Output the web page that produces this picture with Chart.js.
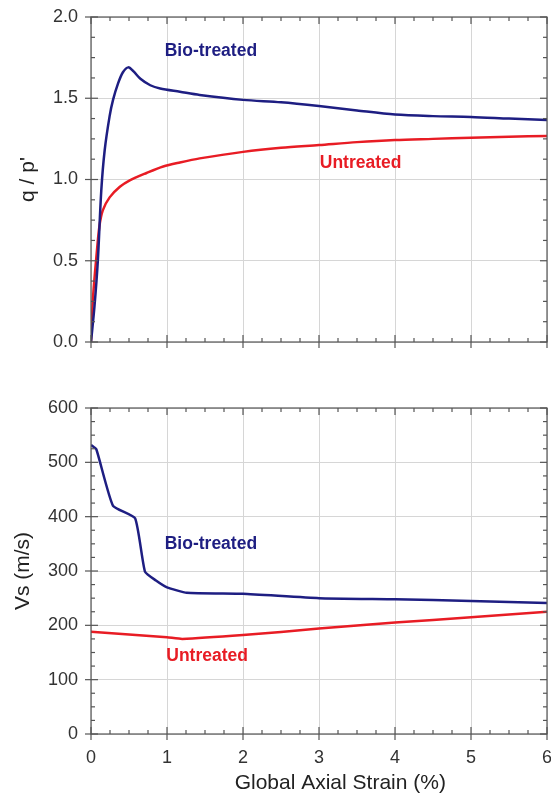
<!DOCTYPE html>
<html>
<head>
<meta charset="utf-8">
<script src="https://cdn.jsdelivr.net/npm/chart.js@4.4.1/dist/chart.umd.min.js"></script>
<style>
  body { margin: 0; background: #fff; }
  #qpChart { position: absolute; left: 0; top: 0; }
  #vsChart { position: absolute; left: 0; top: 370px; }
</style>
</head>
<body>
<canvas id="qpChart" width="551" height="370"></canvas>
<canvas id="vsChart" width="551" height="428"></canvas>
<script>
// ---- data ----
// q/p' vs strain (%)
const bioStrainQ = [0, 0.046, 0.09, 0.135, 0.18, 0.245, 0.29, 0.355, 0.42, 0.49, 0.56, 0.65, 0.78, 0.91, 1.17, 1.43, 2.0, 2.5, 3.0, 3.5, 4.0, 4.5, 5.0, 5.5, 6.0];
const bioQ = [0, 0.22, 0.50, 0.93, 1.18, 1.39, 1.49, 1.59, 1.66, 1.69, 1.665, 1.62, 1.58, 1.56, 1.54, 1.52, 1.49, 1.475, 1.452, 1.425, 1.40, 1.39, 1.385, 1.375, 1.366];
const untStrainQ = [0, 0.02, 0.035, 0.07, 0.11, 0.155, 0.245, 0.38, 0.51, 0.73, 0.95, 1.17, 1.43, 2.0, 2.5, 3.0, 3.5, 4.0, 4.5, 5.0, 5.5, 6.0];
const untQ = [0, 0.22, 0.33, 0.52, 0.71, 0.81, 0.89, 0.955, 0.995, 1.04, 1.08, 1.105, 1.13, 1.17, 1.195, 1.212, 1.23, 1.243, 1.25, 1.257, 1.263, 1.268];

// Vs (m/s) vs strain (%)
const bioStrainV = [0, 0.07, 0.29, 0.58, 0.71, 0.85, 1.0, 1.26, 2.0, 3.0, 4.0, 5.0, 6.0];
const bioVs = [532, 524, 420, 397, 299, 283, 270, 260, 258, 250, 248, 245, 241];
const untStrainV = [0, 1.0, 1.2, 2.0, 3.0, 4.0, 5.0, 6.0];
const untVs = [188, 178, 175, 182, 194, 205, 215, 225];

// curve labels
const labelText = ['Bio-treated', 'Untreated'];
const qLabelX = [0.97, 3.01];
const qLabelY = [1.79, 1.10];
const vLabelX = [0.97, 0.99];
const vLabelY = [350, 144];

const xTitle = 'Global Axial Strain (%)';

const NAVY = '#1e1e82';
const RED = '#e81c24';
const FONT = 'Liberation Sans, Arial, sans-serif';

const toPoints = (xs, ys) => xs.map((x, i) => ({ x: x, y: ys[i] }));

const frameTicks = {
  id: 'frameTicks',
  afterDatasetsDraw(chart, args, opts) {
    const { ctx, chartArea: a, scales: { x, y } } = chart;
    ctx.save();
    ctx.strokeStyle = '#555';
    ctx.lineWidth = 1.2;
    const line = (x1, y1, x2, y2) => {
      ctx.beginPath(); ctx.moveTo(x1, y1); ctx.lineTo(x2, y2); ctx.stroke();
    };
    const isMajor = (v, step) => Math.abs(v / step - Math.round(v / step)) < 1e-6;
    for (let v = x.min; v <= x.max + 1e-9; v += opts.xMinor) {
      const px = x.getPixelForValue(v);
      const major = isMajor(v, opts.xMajor);
      const len = major ? 7 : 4;
      line(px, a.bottom - len, px, a.bottom + (major ? 6 : 0));
      line(px, a.top, px, a.top + len);
    }
    for (let v = y.min; v <= y.max + 1e-9; v += opts.yMinor) {
      const py = y.getPixelForValue(v);
      const major = isMajor(v, opts.yMajor);
      const len = major ? 7 : 4;
      line(a.left - (major ? 6 : 0), py, a.left + len, py);
      line(a.right - len, py, a.right, py);
    }
    ctx.strokeRect(a.left, a.top, a.right - a.left, a.bottom - a.top);
    ctx.restore();
  }
};

const curveLabels = {
  id: 'curveLabels',
  afterDatasetsDraw(chart, args, opts) {
    const { ctx, chartArea: a, scales: { x, y } } = chart;
    ctx.save();
    ctx.font = 'bold 17.5px ' + FONT;
    ctx.textAlign = 'left';
    ctx.textBaseline = 'middle';
    opts.xs.forEach((lx, i) => {
      ctx.fillStyle = opts.colors[i];
      ctx.fillText(opts.texts[i], x.getPixelForValue(lx), y.getPixelForValue(opts.ys[i]));
    });
    // x-axis title, sits a little right of centre in the original
    if (opts.xTitle) {
      ctx.font = '21px ' + FONT;
      ctx.fillStyle = '#222';
      ctx.textAlign = 'center';
      ctx.fillText(opts.xTitle, x.getPixelForValue(3.28), a.bottom + 49);
    }
    ctx.restore();
  }
};

function makeChart(id, cfg) {
  return new Chart(document.getElementById(id), {
    type: 'line',
    data: {
      datasets: [
        { data: toPoints(cfg.bioX, cfg.bioY), borderColor: NAVY, borderWidth: 2.5, pointRadius: 0, tension: cfg.tension },
        { data: toPoints(cfg.untX, cfg.untY), borderColor: RED, borderWidth: 2.5, pointRadius: 0, tension: cfg.tension }
      ]
    },
    options: {
      responsive: false,
      animation: false,
      layout: { padding: { top: cfg.padTop, right: 4, left: 0, bottom: 0 } },
      plugins: {
        legend: { display: false },
        tooltip: { enabled: false },
        frameTicks: { xMinor: 0.25, xMajor: 1, yMinor: cfg.yMinor, yMajor: cfg.yStep },
        curveLabels: { xs: cfg.labelX, ys: cfg.labelY, texts: labelText, colors: [NAVY, RED], xTitle: cfg.xTitle }
      },
      scales: {
        x: {
          type: 'linear', min: 0, max: 6,
          afterFit: (s) => { s.height = cfg.xHeight; s.paddingLeft = 0; s.paddingRight = 0; },
          grid: { color: '#d6d6d6', drawTicks: false },
          border: { display: false },
          ticks: { display: cfg.showX, stepSize: 1, padding: 13, color: '#333', font: { family: FONT, size: 18 } }
        },
        y: {
          min: 0, max: cfg.yMax,
          afterFit: (s) => { s.width = 91; s.paddingTop = 0; s.paddingBottom = 0; },
          grid: { color: '#d6d6d6', drawTicks: false },
          border: { display: false },
          ticks: { stepSize: cfg.yStep, padding: 13, color: '#333', font: { family: FONT, size: 18 },
                   callback: cfg.tickFmt },
          title: { display: true, text: cfg.yTitle, color: '#222', padding: { top: cfg.yTitlePad, bottom: 0 }, font: { family: FONT, size: 21 } }
        }
      }
    },
    plugins: [frameTicks, curveLabels]
  });
}

makeChart('qpChart', {
  bioX: bioStrainQ, bioY: bioQ, untX: untStrainQ, untY: untQ, tension: 0.3,
  padTop: 17, xHeight: 28, showX: false,
  yMax: 2, yStep: 0.5, yMinor: 0.125, yTitle: "q / p'", yTitlePad: 16,
  tickFmt: (v) => v.toFixed(1),
  labelX: qLabelX, labelY: qLabelY
});

makeChart('vsChart', {
  bioX: bioStrainV, bioY: bioVs, untX: untStrainV, untY: untVs, tension: 0.15,
  padTop: 38, xHeight: 64, showX: true,
  yMax: 600, yStep: 100, yMinor: 25, yTitle: 'Vs (m/s)', yTitlePad: 11,
  tickFmt: (v) => v,
  labelX: vLabelX, labelY: vLabelY, xTitle: xTitle
});
</script>
</body>
</html>
